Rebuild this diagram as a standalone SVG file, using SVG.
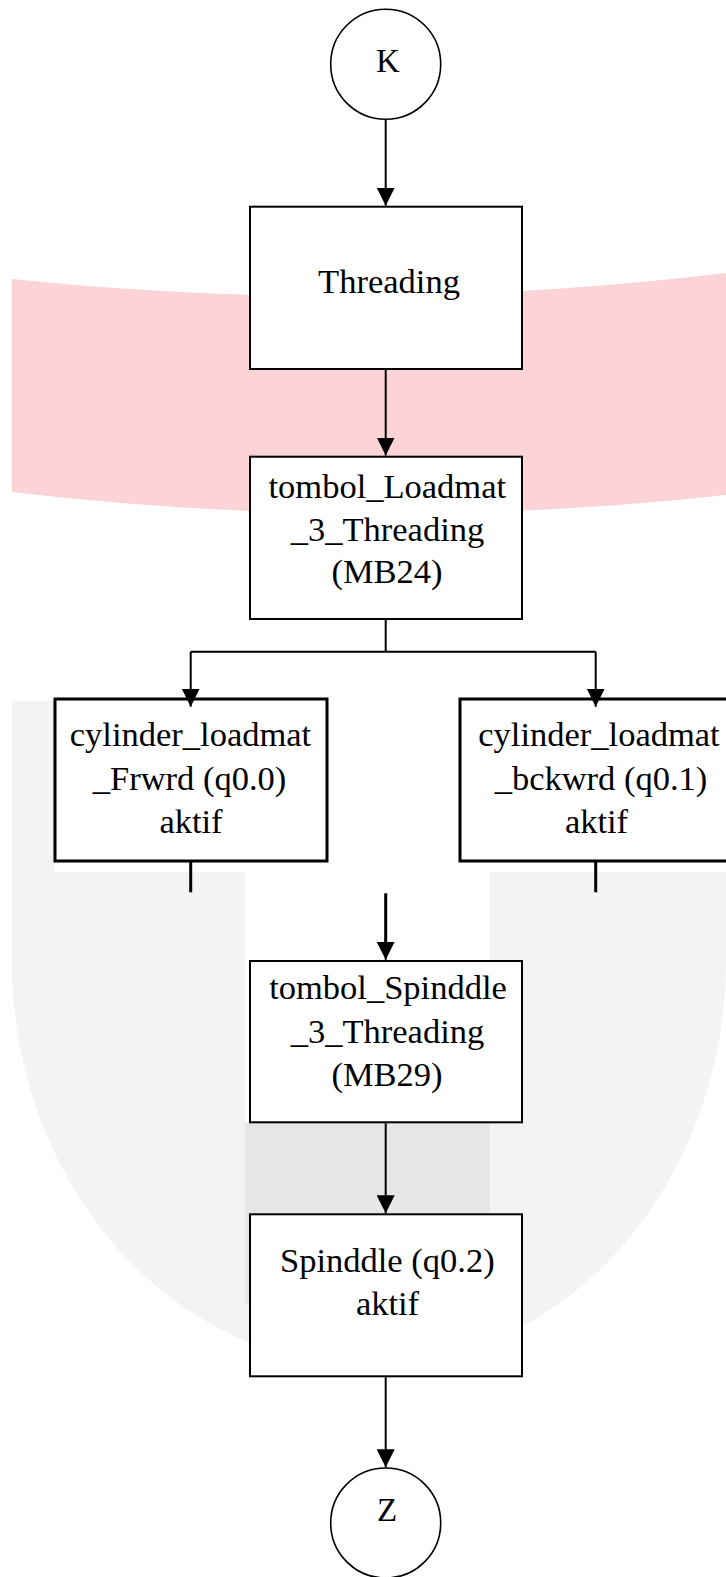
<svg xmlns="http://www.w3.org/2000/svg" width="726" height="1577" viewBox="0 0 726 1577">
<style>
.t{font-family:"Liberation Serif","Times New Roman",serif;font-size:34.5px;fill:#000;text-anchor:middle}
.c{font-size:33px}
.box{fill:#fff;stroke:#000;stroke-width:2}
.box3{fill:#fff;stroke:#000;stroke-width:3}
.circ{fill:#fff;stroke:#000;stroke-width:1.6}
.ln{fill:none;stroke:#000;stroke-width:2}
.ln3{fill:none;stroke:#000;stroke-width:3}
</style>
<defs>
<marker id="ah" markerUnits="userSpaceOnUse" markerWidth="18" markerHeight="18" refX="18" refY="9" orient="auto">
<path d="M0,0 L18,9 L0,18 Z" fill="#000"/>
</marker>
</defs>
<rect x="0" y="0" width="726" height="1577" fill="#fff"/>
<g id="watermark">
<path d="M11.7,279 Q369,316 726,273 L726,495 Q369,534 11.7,492 Z" fill="#FCD3D6"/>
<path d="M11.7,701 H726 V960 A357.15,406 0 0 1 11.7,960 Z" fill="#F3F3F3"/>
<rect x="245" y="701" width="245" height="422" fill="#fff"/>
<rect x="245" y="1123" width="245" height="180" fill="#E6E6E6"/>
<rect x="54" y="697" width="274" height="175" fill="#fff"/>
<rect x="459" y="697" width="270" height="175" fill="#fff"/>
</g>
<g id="node-K">
<circle class="circ" cx="385.7" cy="64.2" r="55"/>
<text class="t c" x="388" y="71.7">K</text>
</g>
<g id="node-threading">
<rect class="box" x="250" y="206.7" width="272" height="162.3"/>
<text class="t" x="389" y="293.3">Threading</text>
</g>
<g id="node-loadmat">
<rect class="box" x="250" y="456.7" width="272" height="162.3"/>
<text class="t" x="387.3" y="498.3">tombol_Loadmat</text>
<text class="t" x="387.5" y="540.5">_3_Threading</text>
<text class="t" x="387" y="583.3">(MB24)</text>
</g>
<g id="node-frwrd">
<rect class="box3" x="55" y="699" width="272" height="162"/>
<text class="t" x="190.5" y="745.7">cylinder_loadmat</text>
<text class="t" x="189.5" y="790">_Frwrd (q0.0)</text>
<text class="t" x="191" y="833.3">aktif</text>
</g>
<g id="node-bckwrd">
<rect class="box3" x="460" y="699" width="272" height="162"/>
<text class="t" x="599" y="745.7">cylinder_loadmat</text>
<text class="t" x="601" y="790">_bckwrd (q0.1)</text>
<text class="t" x="596.5" y="833.3">aktif</text>
</g>
<g id="node-spinddle-btn">
<rect class="box" x="250" y="961" width="272" height="161.3"/>
<text class="t" x="388" y="998.5">tombol_Spinddle</text>
<text class="t" x="387.5" y="1042.5">_3_Threading</text>
<text class="t" x="387" y="1085.5">(MB29)</text>
</g>
<g id="node-spinddle">
<rect class="box" x="250" y="1214.3" width="272" height="162"/>
<text class="t" x="387.3" y="1271.7">Spinddle (q0.2)</text>
<text class="t" x="387.5" y="1315">aktif</text>
</g>
<g id="node-Z">
<circle class="circ" cx="385.7" cy="1523" r="55"/>
<text class="t c" x="387" y="1521">Z</text>
</g>
<g id="connectors">
<line class="ln" x1="385.7" y1="119.5" x2="385.7" y2="205.7" marker-end="url(#ah)"/>
<line class="ln" x1="385.7" y1="370" x2="385.7" y2="455.5" marker-end="url(#ah)"/>
<polyline class="ln" points="385.7,620 385.7,651.7"/>
<polyline class="ln" points="190.7,651.7 595.7,651.7"/>
<line class="ln" x1="190.7" y1="651.7" x2="190.7" y2="706.7" marker-end="url(#ah)"/>
<line class="ln" x1="595.7" y1="651.7" x2="595.7" y2="706.7" marker-end="url(#ah)"/>
<line class="ln3" x1="190.7" y1="862" x2="190.7" y2="892.3"/>
<line class="ln3" x1="595.7" y1="862" x2="595.7" y2="892.3"/>
<line class="ln3" x1="385.7" y1="893.3" x2="385.7" y2="942"/>
<line class="ln" x1="385.7" y1="938" x2="385.7" y2="959.8" marker-end="url(#ah)"/>
<line class="ln" x1="385.7" y1="1123.3" x2="385.7" y2="1213.3" marker-end="url(#ah)"/>
<line class="ln" x1="385.7" y1="1377.3" x2="385.7" y2="1467.3" marker-end="url(#ah)"/>
</g>
</svg>
